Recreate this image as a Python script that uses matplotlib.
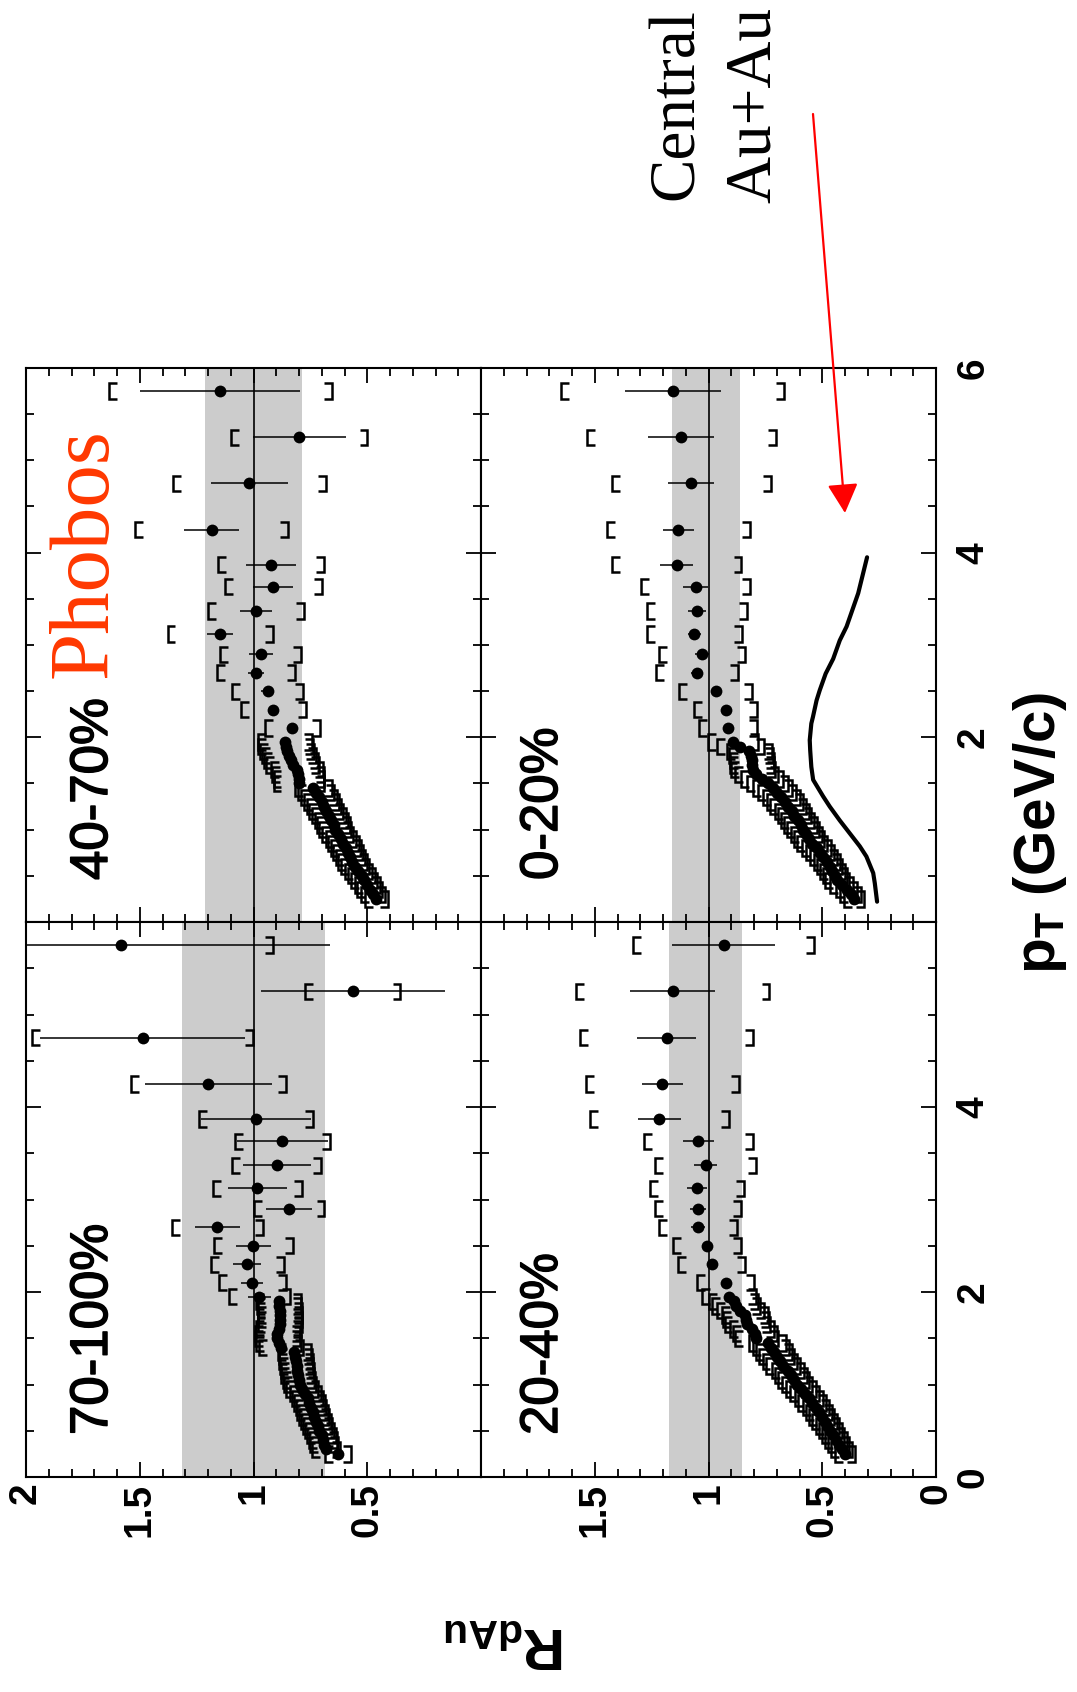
import matplotlib
matplotlib.use("Agg")
import matplotlib.pyplot as plt
import matplotlib.patheffects as pe
from matplotlib.collections import LineCollection
from matplotlib.patches import FancyArrowPatch

plt.rcParams['font.family'] = ['Liberation Sans', 'DejaVu Sans']
plt.rcParams['mathtext.fontset'] = 'custom'
plt.rcParams['mathtext.rm'] = 'Liberation Sans'
plt.rcParams['mathtext.bf'] = 'Liberation Sans:bold'
plt.rcParams['mathtext.it'] = 'Liberation Sans:italic'

# ---------------- data ----------------
# fine pT binning at low pT, coarse above 1.9 GeV/c
pt_dense = [0.25, 0.30, 0.35, 0.40, 0.45, 0.50, 0.55, 0.60, 0.65, 0.70,
            0.75, 0.80, 0.85, 0.90, 0.95, 1.00, 1.05, 1.10, 1.15, 1.20,
            1.25, 1.30, 1.35, 1.40, 1.45, 1.50, 1.55, 1.60, 1.65, 1.70,
            1.75, 1.80, 1.85, 1.90]
pt_sparse = [1.95, 2.10, 2.30, 2.50, 2.70, 2.90, 3.12, 3.37, 3.63, 3.87,
             4.25, 4.75, 5.25, 5.75]

# 40-70%
r_dense_4070 = [0.46, 0.475, 0.49, 0.50, 0.515, 0.525, 0.54, 0.555, 0.565, 0.575,
                0.585, 0.595, 0.605, 0.615, 0.63, 0.64, 0.648, 0.658, 0.668, 0.68,
                0.69, 0.70, 0.713, 0.725, 0.737, 0.80, 0.80, 0.805, 0.808, 0.828,
                0.835, 0.843, 0.852, 0.858]
r_sparse_4070 = [0.862, 0.829, 0.913, 0.938, 0.989, 0.968, 1.147, 0.989, 0.913, 0.924,
                 1.184, 1.018, 0.799, 1.147]
stat_4070 = [0.02, 0.02, 0.025, 0.03, 0.035, 0.053, 0.059, 0.072, 0.088, 0.11,
             0.12, 0.168, 0.204, 0.35]
sys_4070 = [0.12, 0.12, 0.143, 0.156, 0.17, 0.178, 0.231, 0.212, 0.214, 0.233,
            0.335, 0.335, 0.30, 0.49]

# 0-20%
r_dense_0020 = [0.36, 0.375, 0.393, 0.415, 0.435, 0.445, 0.456, 0.468, 0.48, 0.495,
                0.51, 0.524, 0.545, 0.557, 0.57, 0.585, 0.595, 0.608, 0.622, 0.633,
                0.65, 0.665, 0.68, 0.70, 0.717, 0.74, 0.765, 0.79, 0.805, 0.808,
                0.81, 0.812, 0.82, 0.86]
r_sparse_0020 = [0.893, 0.915, 0.925, 0.969, 1.051, 1.029, 1.062, 1.051, 1.057, 1.140,
                 1.132, 1.076, 1.120, 1.157]
stat_0020 = [0.015, 0.02, 0.02, 0.022, 0.025, 0.03, 0.03, 0.04, 0.054, 0.073,
             0.068, 0.10, 0.146, 0.21]
sys_0020 = [0.11, 0.126, 0.14, 0.16, 0.18, 0.19, 0.21, 0.22, 0.24, 0.285,
            0.316, 0.35, 0.415, 0.49]

# 70-100%
r_dense_70100 = [0.63, 0.68, 0.69, 0.695, 0.70, 0.71, 0.718, 0.725, 0.733, 0.74,
                 0.748, 0.755, 0.762, 0.772, 0.785, 0.795, 0.80, 0.805, 0.808, 0.81,
                 0.813, 0.816, 0.82, 0.88, 0.89, 0.895, 0.895, 0.89, 0.885, 0.882,
                 0.882, 0.885, 0.888, 0.89]
r_sparse_70100 = [0.974, 1.005, 1.027, 1.001, 1.159, 0.843, 0.983, 0.898, 0.873, 0.989,
                  1.199, 1.487, 0.564, 1.584]
stat_70100 = [0.05, 0.048, 0.062, 0.076, 0.10, 0.10, 0.13, 0.15, 0.20, 0.24,
              0.28, 0.45, 0.405, 0.92]
sys_70100 = [0.135, 0.148, 0.16, 0.173, 0.20, 0.155, 0.197, 0.195, 0.21, 0.25,
             0.34, 0.485, 0.21, 0.67]

# 20-40%
r_dense_2040 = [0.40, 0.415, 0.428, 0.44, 0.452, 0.465, 0.477, 0.49, 0.502, 0.514,
                0.528, 0.545, 0.56, 0.578, 0.595, 0.61, 0.625, 0.638, 0.65, 0.672,
                0.687, 0.70, 0.713, 0.726, 0.739, 0.79, 0.795, 0.81, 0.83, 0.834,
                0.838, 0.86, 0.878, 0.89]
r_sparse_2040 = [0.910, 0.925, 0.986, 1.007, 1.047, 1.047, 1.051, 1.013, 1.044, 1.216,
                 1.204, 1.184, 1.157, 0.934]
stat_2040 = [0.015, 0.018, 0.02, 0.022, 0.03, 0.035, 0.045, 0.05, 0.07, 0.095,
             0.09, 0.13, 0.187, 0.227]
sys_2040 = [0.12, 0.125, 0.147, 0.15, 0.172, 0.188, 0.207, 0.22, 0.24, 0.305,
            0.336, 0.38, 0.425, 0.396]

# relative systematic uncertainty of the fine-binned points (below / above the split)
sys_split = {"40-70%": 1.475, "0-20%": 1.475, "70-100%": 1.375, "20-40%": 1.475}
sys_frac = {"40-70%": (0.11, 0.14), "0-20%": (0.12, 0.12),
            "70-100%": (0.09, 0.11), "20-40%": (0.11, 0.12)}

# normalisation (N_coll) uncertainty bands around unity
bands = {"40-70%": (0.788, 1.213), "0-20%": (0.863, 1.162),
         "70-100%": (0.686, 1.313), "20-40%": (0.852, 1.175)}

# central Au+Au reference curve
auau_pt = [0.22, 0.42, 0.53, 0.71, 0.82, 0.96, 1.10, 1.25, 1.36, 1.54, 1.68, 1.86,
           1.97, 2.15, 2.22, 2.40, 2.51, 2.69, 2.85, 3.05, 3.20, 3.56, 3.95]
auau_r = [0.259, 0.269, 0.276, 0.306, 0.335, 0.379, 0.423, 0.467, 0.496, 0.540, 0.548,
          0.553, 0.555, 0.548, 0.541, 0.525, 0.511, 0.485, 0.452, 0.423, 0.393, 0.342, 0.303]

r_ticks = [0, 0.5, 1, 1.5, 2]
pt_ticks = [0, 2, 4, 6]

# ---------------- figure ----------------
W, H = 1077, 1692
fig = plt.figure(figsize=(W / 100, H / 100), dpi=100)


def fx(px):
    return px / W


def fy(py):
    return 1 - py / H


col_x = {"L": (26, 481), "R": (481, 936)}
row_y = {"T": (368, 922), "B": (922, 1477)}

BR_ARM = 0.035   # bracket arm length (R units)
BR_HALF = 0.083  # bracket half height (pT units)
heavy = [pe.withStroke(linewidth=1.1, foreground='black')]


def brackets(ax, pts, rs, sys):
    segs = []
    for p, r, s in zip(pts, rs, sys):
        hi, lo = r + s, r - s
        segs.append([(hi - BR_ARM, p - BR_HALF), (hi, p - BR_HALF),
                     (hi, p + BR_HALF), (hi - BR_ARM, p + BR_HALF)])
        segs.append([(lo + BR_ARM, p - BR_HALF), (lo, p - BR_HALF),
                     (lo, p + BR_HALF), (lo + BR_ARM, p + BR_HALF)])
    ax.add_collection(LineCollection(segs, colors='black', linewidths=1.8,
                                     capstyle='butt', joinstyle='miter', zorder=4))


def panel(col, row, label, r_dense, r_sparse, stat, sys, xlabels, ylabels):
    x0, x1 = col_x[col]
    y0, y1 = row_y[row]
    ax = fig.add_axes([fx(x0), fy(y1), fx(x1) - fx(x0), fy(y0) - fy(y1)])
    ax.set_xlim(2, 0)
    ax.set_ylim(0, 6)
    lo, hi = bands[label]
    ax.axvspan(lo, hi, color='#cccccc', lw=0, zorder=1)
    ax.axvline(1.0, color='black', lw=1.2, zorder=2)

    split = sys_split[label]
    f_lo, f_hi = sys_frac[label]
    sys_dense = [r * (f_lo if p < split else f_hi) for p, r in zip(pt_dense, r_dense)]
    brackets(ax, pt_dense, r_dense, sys_dense)
    brackets(ax, pt_sparse, r_sparse, sys)

    ax.hlines(pt_sparse, [r - e for r, e in zip(r_sparse, stat)],
              [r + e for r, e in zip(r_sparse, stat)], color='black', lw=1.1, zorder=5)
    ax.plot(r_dense, pt_dense, 'o', color='black', ms=8.5, mew=0, zorder=6)
    ax.plot(r_sparse, pt_sparse, 'o', color='black', ms=8.5, mew=0, zorder=6)

    ax.set_xticks(r_ticks)
    ax.set_xticks([i / 10 for i in range(21)], minor=True)
    ax.set_yticks(pt_ticks)
    ax.set_yticks([i / 2 for i in range(13)], minor=True)
    ax.tick_params(which='both', direction='in', top=True, bottom=True,
                   left=True, right=True, width=1.3, color='black')
    ax.tick_params(which='major', length=11)
    ax.tick_params(which='minor', length=5.5)
    if xlabels is not None:
        ax.set_xticklabels(xlabels, rotation=90, fontsize=28, fontweight='bold')
        ax.tick_params(axis='x', pad=4)
    else:
        ax.tick_params(axis='x', labelbottom=False)
    if ylabels is not None:
        ax.set_yticklabels(ylabels, rotation=90, fontsize=28, fontweight='bold',
                           va='center')
        ax.tick_params(axis='y', labelleft=False, labelright=True, pad=14)
    else:
        ax.tick_params(axis='y', labelleft=False)
    for s in ax.spines.values():
        s.set_linewidth(1.5)

    # centrality label, reading upward
    lx = {"L": 107, "R": 557}[col]
    ly = {"T": 880, "B": 1435}[row]
    fig.text(fx(lx), fy(ly), label, rotation=90, rotation_mode='anchor',
             ha='left', va='baseline', fontsize=38, path_effects=heavy)
    return ax


panel("L", "T", "40-70%", r_dense_4070, r_sparse_4070, stat_4070, sys_4070, None, None)
ax_c = panel("R", "T", "0-20%", r_dense_0020, r_sparse_0020, stat_0020, sys_0020,
             None, ['', '2', '4', '6'])
panel("L", "B", "70-100%", r_dense_70100, r_sparse_70100, stat_70100, sys_70100,
      ['', '0.5', '1', '1.5', '2'], None)
panel("R", "B", "20-40%", r_dense_2040, r_sparse_2040, stat_2040, sys_2040,
      ['0', '0.5', '1', '1.5', ''], ['0', '2', '4', ''])

ax_c.plot(auau_r, auau_pt, color='black', lw=3.0, zorder=6, solid_capstyle='round',
          solid_joinstyle='round')

# axis titles
fig.text(fx(1040), fy(833), r'$\mathbf{p_T}$ $\mathbf{(GeV/c)}$', rotation=90,
         ha='center', va='center', fontsize=42)
fig.text(fx(505), fy(1643), r'$\mathbf{R_{dAu}}$', rotation=180,
         ha='center', va='center', fontsize=42)

# annotations
fig.text(fx(107), fy(678), 'Phobos', rotation=90, rotation_mode='anchor',
         ha='left', va='baseline', fontsize=61, color='#ff3800',
         family=['Liberation Serif'])
fig.text(fx(693), fy(200), 'Central', rotation=90, rotation_mode='anchor',
         ha='left', va='baseline', fontsize=47, family=['Liberation Serif'])
fig.text(fx(770), fy(203), 'Au+Au', rotation=90, rotation_mode='anchor',
         ha='left', va='baseline', fontsize=47, family=['Liberation Serif'])

arrow = FancyArrowPatch((fx(813), fy(114)), (fx(845), fy(513)),
                        transform=fig.transFigure, color='red', lw=1.6,
                        arrowstyle='-|>,head_length=0.9,head_width=0.47',
                        mutation_scale=20, shrinkA=0, shrinkB=0)
fig.patches.append(arrow)

fig.savefig('out.png', dpi=100, facecolor='white')
